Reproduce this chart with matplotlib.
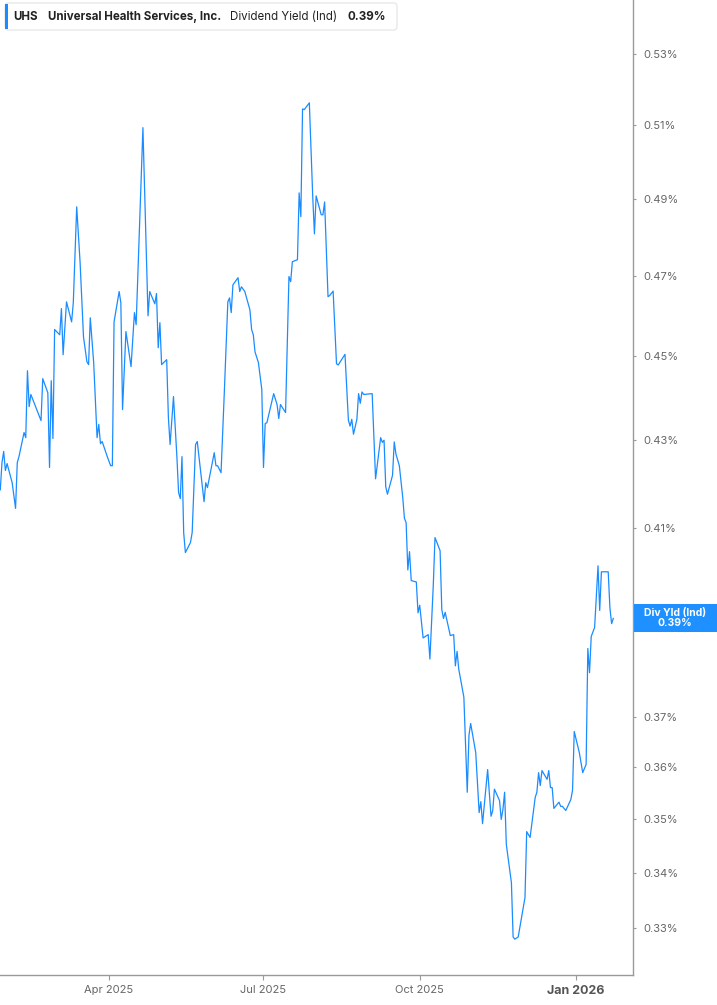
import numpy as np
import pandas as pd
import matplotlib
matplotlib.use("Agg")
import matplotlib.pyplot as plt
import matplotlib.ticker as ticker
import matplotlib.transforms as mtransforms
from matplotlib.patches import FancyBboxPatch, Rectangle

plt.rcParams['font.family'] = ['Inter', 'DejaVu Sans']

# dividend yield (%), days counted from 2025-01-27
start = pd.Timestamp('2025-01-27')
day_offset = [
    0, 1, 2, 3, 4, 7, 9, 10, 11, 14,
    15, 16, 17, 18, 22, 24, 25, 28, 29, 30,
    31, 32, 35, 36, 37, 39, 42, 43, 45, 47,
    49, 51, 52, 53, 55, 57, 58, 59, 60, 63,
    65, 66, 67, 70, 71, 72, 74, 77, 79, 80,
    84, 85, 87, 88, 91, 92, 93, 94, 95, 98,
    99, 100, 102, 104, 105, 106, 107, 108, 109, 112,
    113, 115, 116, 120, 121, 122, 126, 127, 128, 130,
    132, 134, 135, 136, 137, 140, 141, 142, 144, 147,
    148, 149, 150, 152, 154, 155, 156, 157, 161, 163,
    164, 165, 168, 170, 171, 172, 175, 176, 177, 178,
    179, 182, 184, 185, 186, 189, 190, 191, 193, 194,
    196, 198, 199, 203, 205, 206, 207, 208, 210, 211,
    212, 213, 214, 219, 221, 224, 225, 226, 227, 228,
    231, 232, 233, 235, 237, 238, 239, 240, 241, 242,
    245, 246, 247, 249, 252, 253, 255, 256, 259, 260,
    261, 262, 265, 267, 268, 269, 270, 273, 275, 276,
    277, 280, 282, 283, 284, 287, 289, 290, 291, 294,
    295, 296, 297, 298, 301, 302, 303, 305, 309, 310,
    312, 315, 316, 317, 318, 319, 322, 323, 324, 325,
    326, 329, 330, 331, 333, 336, 337, 338, 341, 343,
    345, 346, 347, 348, 350, 352, 353, 354, 358, 359,
    360, 361,
]
div_yield = [
    0.4185, 0.4247, 0.4273, 0.4229, 0.4245, 0.4201, 0.4143, 0.4247, 0.4261, 0.4317,
    0.4305, 0.4464, 0.4378, 0.4407, 0.4366, 0.4345, 0.4445, 0.4411, 0.4236, 0.4440,
    0.4303, 0.4565, 0.4552, 0.4617, 0.4503, 0.4634, 0.4584, 0.4632, 0.4879, 0.4734,
    0.4547, 0.4486, 0.4479, 0.4594, 0.4484, 0.4305, 0.4336, 0.4291, 0.4296, 0.4261,
    0.4240, 0.4240, 0.4584, 0.4660, 0.4632, 0.4371, 0.4560, 0.4474, 0.4607, 0.4577,
    0.5093, 0.4924, 0.4599, 0.4660, 0.4629, 0.4655, 0.4520, 0.4582, 0.4479, 0.4491,
    0.4352, 0.4289, 0.4402, 0.4261, 0.4179, 0.4165, 0.4261, 0.4089, 0.4045, 0.4067,
    0.4089, 0.4289, 0.4296, 0.4158, 0.4201, 0.4190, 0.4270, 0.4240, 0.4240, 0.4224,
    0.4419, 0.4634, 0.4644, 0.4607, 0.4677, 0.4695, 0.4660, 0.4672, 0.4660, 0.4614,
    0.4565, 0.4552, 0.4510, 0.4484, 0.4419, 0.4236, 0.4338, 0.4340, 0.4409, 0.4383,
    0.4350, 0.4383, 0.4364, 0.4698, 0.4685, 0.4736, 0.4741, 0.4916, 0.4853, 0.5145,
    0.5143, 0.5162, 0.4906, 0.4808, 0.4908, 0.4858, 0.4858, 0.4892, 0.4647, 0.4650,
    0.4661, 0.4481, 0.4478, 0.4504, 0.4346, 0.4332, 0.4348, 0.4313, 0.4348, 0.4409,
    0.4386, 0.4413, 0.4407, 0.4409, 0.4210, 0.4305, 0.4294, 0.4299, 0.4192, 0.4175,
    0.4218, 0.4295, 0.4267, 0.4240, 0.4168, 0.4121, 0.4111, 0.4007, 0.4047, 0.3984,
    0.3981, 0.3915, 0.3931, 0.3862, 0.3869, 0.3818, 0.3975, 0.4078, 0.4049, 0.3922,
    0.3903, 0.3916, 0.3867, 0.3869, 0.3804, 0.3834, 0.3797, 0.3740, 0.3552, 0.3663,
    0.3687, 0.3629, 0.3513, 0.3534, 0.3492, 0.3596, 0.3506, 0.3517, 0.3558, 0.3536,
    0.3500, 0.3519, 0.3552, 0.3453, 0.3382, 0.3284, 0.3280, 0.3284, 0.3355, 0.3477,
    0.3466, 0.3542, 0.3552, 0.3590, 0.3565, 0.3594, 0.3577, 0.3594, 0.3561, 0.3561,
    0.3521, 0.3533, 0.3525, 0.3525, 0.3517, 0.3538, 0.3556, 0.3671, 0.3629, 0.3590,
    0.3606, 0.3840, 0.3790, 0.3865, 0.3884, 0.4016, 0.3920, 0.4003, 0.4003, 0.3926,
    0.3892, 0.3903,
]
assert len(day_offset) == len(div_yield)
dates = start + pd.to_timedelta(day_offset, unit='D')

y_ticks = [0.33, 0.34, 0.35, 0.36, 0.37, 0.39, 0.41, 0.43, 0.45, 0.47, 0.49, 0.51, 0.53]
x_ticks = pd.to_datetime(['2025-04-01', '2025-07-01', '2025-10-01', '2026-01-01'])
x_labels = ['Apr 2025', 'Jul 2025', 'Oct 2025', 'Jan 2026']

ticker_sym = 'UHS'
company = 'Universal Health Services, Inc.'
metric = 'Dividend Yield (Ind)'

blue = '#1a8cff'
grey = '#9a9a9a'

fig = plt.figure(figsize=(7.17, 10.05), dpi=100)
ax = fig.add_axes([0, 0.0299, 0.8824, 0.9701])

ax.plot(dates, div_yield, color=blue, lw=0.9)

ax.set_yscale('log')
ax.set_ylim(0.3217, 0.5458)
ax.set_xlim(pd.Timestamp('2025-01-26 20:00'), pd.Timestamp('2026-02-03 10:00'))

last = div_yield[-1]

# the 0.39% label sits under the last-value flag, so only its tick mark shows
def fmt_pct(v, p):
    if abs(v - round(last, 2)) < 1e-9:
        return ''
    return f'{v:.2f}%'

ax.yaxis.set_major_locator(ticker.FixedLocator(y_ticks))
ax.yaxis.set_minor_locator(ticker.NullLocator())
ax.yaxis.set_major_formatter(ticker.FuncFormatter(fmt_pct))
ax.yaxis.set_minor_formatter(ticker.NullFormatter())
ax.yaxis.tick_right()
ax.tick_params(axis='y', direction='out', length=2.5, width=0.8, color=grey,
               labelsize=8, labelcolor='#666666', pad=5)

ax.set_xticks(x_ticks)
ax.set_xticklabels(x_labels)
ax.tick_params(axis='x', direction='out', length=3.5, width=0.8, color=grey,
               labelsize=8, labelcolor='#666666', pad=4)
last_lbl = ax.get_xticklabels()[-1]
last_lbl.set_fontweight('bold')
last_lbl.set_fontsize(9)
last_lbl.set_color('#555555')

for side in ['left', 'top']:
    ax.spines[side].set_visible(False)
for side in ['right', 'bottom']:
    ax.spines[side].set_color(grey)
    ax.spines[side].set_linewidth(1.0)

# last value flag on the right axis
half = 14 / 1845
trans = mtransforms.blended_transform_factory(ax.transAxes, ax.transData)
ax.add_patch(Rectangle((1.0015, last * np.exp(-half)), 0.14, last * (np.exp(half) - np.exp(-half)),
                       transform=trans, facecolor='#1e90ff', edgecolor='none',
                       clip_on=False, zorder=10))
ax.text(1.067, last, f'Div Yld (Ind)\n{last:.2f}%', transform=trans, ha='center', va='center',
        color='white', fontsize=7.5, fontweight='bold', linespacing=1.0,
        clip_on=False, zorder=11)

# header box
W, H = 717, 1005
fig.patches.append(FancyBboxPatch((5 / W, 1 - 30 / H), 392 / W, 27 / H,
                                  boxstyle='round,pad=0,rounding_size=0.004',
                                  transform=fig.transFigure, facecolor='white',
                                  edgecolor='#e4e4e4', linewidth=0.8))
fig.patches.append(Rectangle((5 / W, 1 - 29 / H), 3 / W, 25 / H, transform=fig.transFigure,
                             facecolor=blue, edgecolor='none'))
hy = 1 - 17 / H
hs = 8.3
fig.text(13 / W, hy, ticker_sym, fontsize=hs, fontweight='bold', color='#222222', va='center')
fig.text(48 / W, hy, company, fontsize=hs, fontweight='bold', color='#222222', va='center')
fig.text(230 / W, hy, metric, fontsize=hs, color='#222222', va='center')
fig.text(347 / W, hy, f'{last:.2f}%', fontsize=hs, fontweight='bold', color='#222222', va='center')

fig.savefig('out.png', dpi=100)
